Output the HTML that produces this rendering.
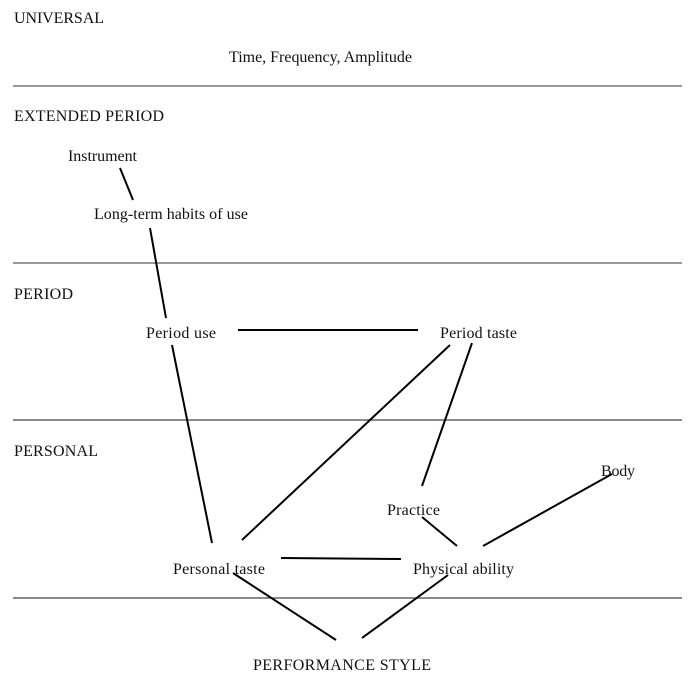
<!DOCTYPE html>
<html><head><style>
html,body{margin:0;padding:0;background:#fff;}
svg{display:block;}
text{font-family:"Liberation Serif",serif;font-size:16px;fill:#111;}
</style></head><body>
<svg width="692" height="684" viewBox="0 0 692 684" xmlns="http://www.w3.org/2000/svg">
<g stroke="#999" stroke-width="2">
<line x1="13" y1="86" x2="682" y2="86"/>
<line x1="13" y1="263" x2="682" y2="263"/>
<line x1="13" y1="420" x2="682" y2="420" stroke="#444" stroke-width="1.3"/>
<line x1="13" y1="598" x2="682" y2="598" stroke="#444" stroke-width="1.3"/>
</g>
<g stroke="#000" stroke-width="2">
<line x1="120" y1="168" x2="133" y2="200"/>
<line x1="150" y1="228" x2="166" y2="318"/>
<line x1="238" y1="330" x2="418" y2="330"/>
<line x1="172" y1="345" x2="212" y2="543"/>
<line x1="450" y1="345" x2="242" y2="540"/>
<line x1="472" y1="343" x2="422" y2="486"/>
<line x1="422" y1="517" x2="457" y2="546"/>
<line x1="483" y1="546" x2="612" y2="474"/>
<line x1="281" y1="558" x2="401" y2="559"/>
<line x1="233" y1="573" x2="336" y2="640"/>
<line x1="362" y1="638" x2="448" y2="575"/>
</g>
<text x="14" y="23" textLength="90">UNIVERSAL</text>
<text x="229" y="62" textLength="183">Time, Frequency, Amplitude</text>
<text x="14" y="121" textLength="150">EXTENDED PERIOD</text>
<text x="68" y="161" textLength="69">Instrument</text>
<text x="94" y="219" textLength="154">Long-term habits of use</text>
<text x="14" y="299" textLength="59">PERIOD</text>
<text x="146" y="338" textLength="70">Period use</text>
<text x="440" y="338" textLength="77">Period taste</text>
<text x="14" y="456" textLength="84">PERSONAL</text>
<text x="601" y="476" textLength="34">Body</text>
<text x="387" y="515" textLength="53">Practice</text>
<text x="173" y="574" textLength="92">Personal taste</text>
<text x="413" y="574" textLength="101">Physical ability</text>
<text x="253" y="670" textLength="178">PERFORMANCE STYLE</text>
</svg>
</body></html>
